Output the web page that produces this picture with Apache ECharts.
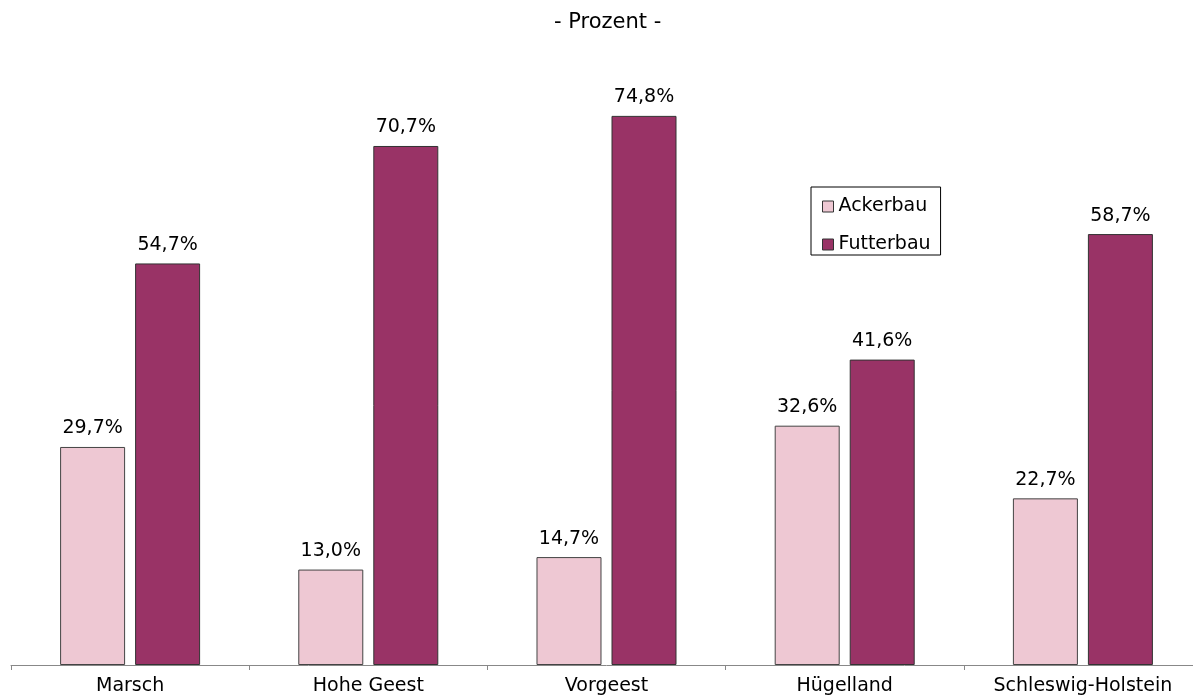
<!DOCTYPE html>
<html><head><meta charset="utf-8">
<script src="https://cdn.jsdelivr.net/npm/echarts@6/dist/echarts.min.js"></script>
<style>html,body{margin:0;padding:0;background:#fff;overflow:hidden;width:1193px;height:697px}#c{width:1215px;height:697px}</style>
</head><body><div id="c"></div>
<script>
const categories = ['Marsch','Hohe Geest','Vorgeest','Hügelland','Schleswig-Holstein'];
const ackerbau = [29.7, 13.0, 14.7, 32.6, 22.7];
const futterbau = [54.7, 70.7, 74.8, 41.6, 58.7];
const fmt = v => v.toFixed(1).replace('.', ',') + '%';
const FONT = 'DejaVu Sans';
const chart = echarts.init(document.getElementById('c'));
const lbl = {show:true, position:'top', distance:9, color:'#000', fontFamily:FONT, fontSize:19, formatter:p=>fmt(p.value)};
chart.setOption({
  animation:false,
  title:{text:'- Prozent -', left:549, top:7, textStyle:{fontFamily:FONT, fontSize:21, fontWeight:'normal', color:'#000'}},
  legend:{orient:'vertical', left:811, top:187, padding:[10,10,1,11], itemGap:19, itemWidth:11, itemHeight:11, icon:'rect', borderColor:'#000', borderWidth:1,
    itemStyle:{borderColor:'#333', borderWidth:1},
    textStyle:{fontFamily:FONT, fontSize:19, color:'#000', padding:[0,0,0,0]}, data:['Ackerbau','Futterbau']},
  grid:{left:11, top:41, width:1191, bottom:32, containLabel:false},
  xAxis:{type:'category', data:categories, axisLine:{lineStyle:{color:'#888', width:1}}, axisTick:{show:true, length:5, lineStyle:{color:'#888'}},
    axisLabel:{color:'#000', fontFamily:FONT, fontSize:19, margin:12, interval:0}},
  yAxis:{type:'value', min:0, max:85, show:false, splitLine:{show:false}},
  series:[
    {name:'Ackerbau', type:'bar', data:ackerbau, barWidth:65, barGap:'15.4%', itemStyle:{color:'#EEC8D3', borderColor:'#444', borderWidth:1}, label:lbl},
    {name:'Futterbau', type:'bar', data:futterbau, barWidth:65, itemStyle:{color:'#993366', borderColor:'#333', borderWidth:1}, label:lbl}
  ]
});
</script></body></html>
